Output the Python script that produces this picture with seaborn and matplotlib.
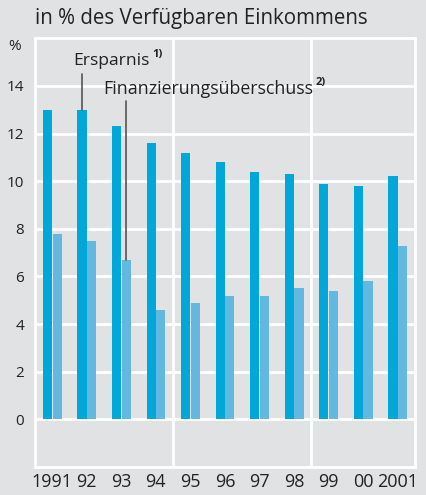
import pandas as pd
import numpy as np
import matplotlib
matplotlib.use("Agg")
import matplotlib.pyplot as plt
import seaborn as sns

# Daten (in % des verfügbaren Einkommens)
jahre = ["1991", "92", "93", "94", "95", "96", "97", "98", "99", "00", "2001"]
ersparnis = [13.0, 13.0, 12.3, 11.6, 11.2, 10.8, 10.4, 10.3, 9.9, 9.8, 10.2]
finanzierung = [7.8, 7.5, 6.7, 4.6, 4.9, 5.2, 5.2, 5.5, 5.4, 5.8, 7.3]
yticks = [0, 2, 4, 6, 8, 10, 12, 14]

bg = "#e1e2e4"
dunkel = "#00a7d8"
hell = "#63b8df"
text_col = "#222222"

df = pd.DataFrame({
    "jahr": jahre * 2,
    "wert": ersparnis + finanzierung,
    "reihe": ["Ersparnis"] * len(jahre) + ["Finanzierung"] * len(jahre),
})

sns.set_style("white", {"axes.facecolor": bg, "figure.facecolor": bg})
plt.rcParams["font.family"] = ["Open Sans", "DejaVu Sans"]

fig = plt.figure(figsize=(4.27, 4.95), dpi=100)
ax = fig.add_axes([0.082, 0.0566, 0.890, 0.866])

sns.barplot(data=df, x="jahr", y="wert", hue="reihe", order=jahre,
            palette=[dunkel, hell], width=0.56, gap=0.05, ax=ax,
            legend=False, saturation=1, linewidth=0, zorder=3)

ax.set_ylim(-2, 16)
ax.set_xlim(-0.5, len(jahre) - 0.5)
ax.set_xlabel("")
ax.set_ylabel("")

# Gitter
for y in yticks:
    ax.axhline(y, color="white", lw=2, zorder=1)
for xv in [3.5, 7.5]:
    ax.axvline(xv, color="white", lw=2, zorder=1)
for s in ax.spines.values():
    s.set_color("white")
    s.set_linewidth(2)

ax.set_yticks(yticks)
ax.set_yticklabels([str(v) for v in yticks])
ax.tick_params(axis="y", length=0, pad=8, labelsize=11, labelcolor=text_col)
ax.tick_params(axis="x", length=0, pad=4, labelsize=13, labelcolor=text_col)

# kleine Trennstriche unten
ax.set_xticks(np.arange(0.5, len(jahre) - 1, 1), minor=True)
ax.tick_params(axis="x", which="minor", direction="in", length=11.5,
               width=2, color="white")

ax.text(-0.055, 15.67, "%", transform=ax.get_yaxis_transform(), fontsize=11,
        color=text_col, ha="center", va="center")
fig.text(0.082, 0.962, "in % des Verfügbaren Einkommens", fontsize=14.8,
         color=text_col, ha="left", va="center")

# Beschriftungen mit Linien
ax.plot([0.86, 0.86], [13.0, 14.5], color="#555555", lw=1.2, zorder=4)
t1 = ax.text(0.60, 15.05, "Ersparnis", fontsize=12.6, color=text_col,
             va="center")
ax.annotate("1)", xy=(1, 0.55), xycoords=t1, xytext=(2, 0),
            textcoords="offset points", fontsize=8, fontweight="bold",
            color=text_col, va="bottom")
ax.plot([2.14, 2.14], [6.7, 13.37], color="#555555", lw=1.2, zorder=4)
t2 = ax.text(1.47, 13.87, "Finanzierungsüberschuss", fontsize=12.8,
             color=text_col, va="center")
ax.annotate("2)", xy=(1, 0.55), xycoords=t2, xytext=(2, 0),
            textcoords="offset points", fontsize=8, fontweight="bold",
            color=text_col, va="bottom")

fig.savefig("out.png", dpi=100, facecolor=bg)
